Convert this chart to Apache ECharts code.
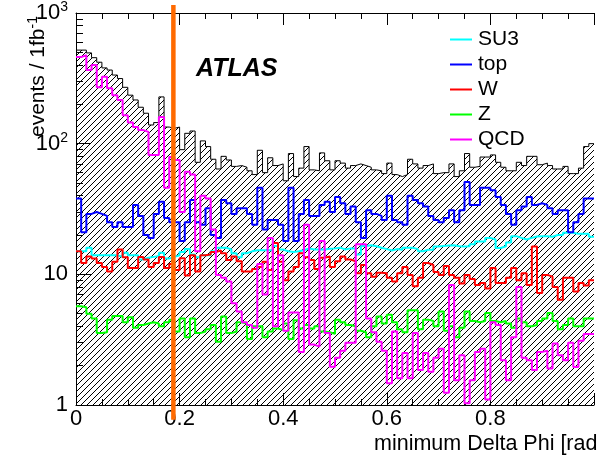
<!DOCTYPE html>
<html>
<head>
<meta charset="utf-8">
<script src="https://cdn.jsdelivr.net/npm/echarts@6/dist/echarts.min.js"></script>
<style>
  html, body { margin: 0; padding: 0; background: #fff; }
  #main { width: 597px; height: 458px; }
</style>
</head>
<body>
<div id="main"></div>
<script>
// 100 bins of 0.01 in minimum Delta Phi, events / 1fb-1
const binWidth = 0.01;

const total = [
  520, 520, 495, 455, 420, 380, 366, 335, 315, 270, 235, 216, 190, 171, 139, 145, 228, 134, 131, 134,
  90, 120, 125, 72, 105, 95, 76, 64, 80, 75, 67, 68, 66, 62, 58, 89, 60, 78, 68, 70,
  52, 84, 56, 65, 95, 63, 62, 85, 74, 63, 74, 71, 65, 68, 70, 68, 66, 63, 62, 59,
  71, 58, 56, 58, 76, 70, 65, 68, 70, 59, 60, 60, 70, 56, 62, 84, 66, 67, 79, 79,
  82, 72, 66, 62, 62, 72, 68, 80, 80, 69, 71, 68, 64, 64, 67, 59, 59, 65, 95, 100
];
const su3 = [
  15, 15, 16, 14, 14, 14, 14, 14, 13.6, 14.6, 14, 14, 13, 13.4, 13.6, 13.8, 14.6, 13.2, 13.6, 14, 14.8, 15.6, 14.2,
  13.5, 14, 14, 15, 16, 16, 15.5, 14.5, 13.5, 14.5, 15, 15.3, 15.3, 15.3, 15.3, 16.5, 15.5, 15, 14.8, 15, 15.3, 15.8, 15.5, 15.5,
  15.5, 15.7, 15.8, 16, 15.5, 15.8, 15.8, 14.2, 16.5, 16.7, 16.4, 16, 15.6, 15.2, 15.6, 15.4, 16, 16, 15.6, 15, 15.4, 15.4, 16.3, 16.5, 16.6,
  16.7, 16.4, 16.3, 16.4, 17, 17.8, 17.8, 19, 18.5, 15.9, 16.4, 17.5, 19.6, 19, 18.5, 19, 19.5, 19.6, 19.6, 19.4, 20, 20, 20.8, 20.8, 20.4, 20.4, 20.4, 19.4
];
const top_ = [
  38, 21, 29, 30, 29, 28, 25, 23, 25, 23, 23, 34, 28, 20, 19, 29, 36, 27, 25, 25, 18, 25, 37,
  25, 24, 32, 20, 19, 37, 35, 29, 32, 32, 29, 24, 46, 22, 26, 26, 24, 18, 46, 18, 29, 37, 28, 28,
  34, 36, 30, 39, 35, 29, 33, 25, 19, 31, 29, 28, 26, 40, 26, 25, 24, 40, 37, 35, 33, 28, 26, 25, 27,
  31, 25, 31, 51, 34, 34, 46, 46, 44, 39, 34, 29, 24, 31, 33, 39, 34, 35, 34, 32, 29, 31, 31, 21, 25, 29, 38, 38
];
const wjets = [
  15, 12.2, 13.7, 13.2, 12.2, 11.4, 10.5, 12.5, 15.5, 13.5, 11.2, 11.2, 13.6, 13, 11.4, 12.2, 13.6, 11.2, 12, 10.8, 13.3, 9.8, 14,
  10.5, 14, 14.2, 14.8, 15.2, 14.5, 12.9, 13.7, 12.6, 10.5, 10.5, 11, 11.4, 12.5, 10.8, 17.4, 12.5, 9, 10.5, 11.4, 14.5, 13.5, 12.9, 11,
  13.4, 13.7, 11.4, 12.6, 13.7, 13, 12.6, 10.2, 11.8, 10.2, 9.6, 10.3, 10.2, 9.4, 8.8, 10.2, 11.4, 9.9, 8.1, 9.4, 12.2, 11.8, 10.4, 9.9, 11.6,
  9.9, 9.4, 8.5, 9.9, 9.2, 8.3, 8.6, 7.8, 11.2, 8.6, 8.6, 9.4, 11.2, 9, 10.2, 8.3, 16.3, 7.2, 9.9, 9.6, 8, 6.4, 9.4, 9.4, 7.4, 8.6, 8.2, 9
];
const zjets = [
  5.7, 5.6, 5.0, 4.6, 3.55, 3.6, 4.5, 4.8, 4.8, 4.3, 4.7, 3.9, 4.1, 4.2, 4.3, 4.2, 4.0, 4.3, 4.5, 3.65, 4.6, 3.3, 4.6,
  3.55, 3.65, 3.8, 4.1, 3.05, 4.75, 3.55, 3.65, 4.3, 4.2, 3.2, 4.0, 4.0, 3.3, 3.65, 3.85, 3.75, 4.2, 3.2, 4.45, 3.85, 4.1, 3.85, 4.0,
  3.65, 3.6, 3.5, 4.5, 4.3, 4.1, 4.0, 3.7, 3.6, 3.3, 4.0, 4.75, 4.2, 4.9, 4.3, 3.8, 3.6, 5.3, 5.3, 3.8, 4.5, 4.4, 4.0, 5.2, 3.7,
  4.0, 3.3, 3.9, 5.2, 4.4, 4.3, 4.4, 5.05, 4.4, 4.3, 4.4, 4.2, 3.9, 4.6, 4.3, 4.0, 4.1, 4.4, 4.6, 5.05, 4.4, 3.8, 4.1, 4.6, 4.0, 4.0, 4.6, 4.6
];
const qcd = [
  460, 476, 366, 400, 270, 325, 265, 235, 216, 165, 145, 134, 127, 123, 82, 82, 160, 46, 79, 75, 30, 61, 58,
  15, 40, 38, 22, 9.9, 9.4, 8.8, 6, 5.2, 4.3, 4.1, 3.9, 12, 7, 19, 4.0, 14, 3.7, 5.1, 5.1, 2.55, 24, 2.9, 2.8,
  18, 3.55, 1.96, 2.3, 2.6, 3.0, 3.0, 17, 17, 4.6, 3.6, 3.05, 2.6, 1.47, 3.65, 1.6, 2.5, 1.6, 3.55, 1.85, 2.5, 1.8, 2.3, 2.7, 1.24,
  8.3, 1.55, 2.4, 1.03, 1.55, 2.55, 2.7, 1.1, 4.3, 4.1, 2.2, 1.55, 3.3, 8, 2.3, 2.2, 1.85, 2.55, 2.6, 1.9, 2.95, 2.4, 2.2, 3.0, 1.95, 3.1, 3.5, 3.5
];

const xTickLabels = [0, 0.2, 0.4, 0.6, 0.8];
const yTickLabels = [1, 10, 100, 1000];
const cutX = 0.188;          // orange cut line
const cutSpan = [0.77, 1150]; // runs a little past the frame

const FONT = '"Liberation Sans", Arial, Helvetica, sans-serif';

// histogram -> step points at bin edges
function histo(vals) {
  const pts = vals.map(function (v, i) { return [i * binWidth, v]; });
  pts.push([vals.length * binWidth, vals[vals.length - 1]]);
  return pts;
}

// diagonal hatch pattern
const hatch = document.createElement('canvas');
hatch.width = 6; hatch.height = 6;
(function () {
  const c = hatch.getContext('2d');
  c.strokeStyle = '#000';
  c.lineWidth = 1;
  c.beginPath();
  c.moveTo(-1, 7); c.lineTo(7, -1);
  c.moveTo(-1, 1); c.lineTo(1, -1);
  c.moveTo(5, 7); c.lineTo(7, 5);
  c.stroke();
})();

const myChart = echarts.init(document.getElementById('main'), null, { renderer: 'canvas' });

function lineSeries(name, vals, color) {
  return {
    name: name, type: 'line', data: histo(vals), step: 'end',
    symbol: 'none', color: color,
    lineStyle: { color: color, width: 2 },
    z: 3
  };
}

const xAxisCommon = {
  type: 'value', min: 0, max: 1, interval: 0.2,
  axisLine: { show: true, onZero: false, lineStyle: { color: '#000', width: 1 } },
  axisTick: { show: true, inside: true, length: 12, lineStyle: { color: '#000' } },
  minorTick: { show: true, splitNumber: 4, length: 6, lineStyle: { color: '#000' } },
  splitLine: { show: false },
  minorSplitLine: { show: false }
};

const option = {
  backgroundColor: '#fff',
  animation: false,
  grid: { left: 76, right: -4, top: 13, bottom: 53, containLabel: false },
  legend: {
    data: ['SU3', 'top', 'W', 'Z', 'QCD'],
    orient: 'vertical',
    left: 445, top: 24,
    icon: 'rect', itemWidth: 22, itemHeight: 2, itemGap: 4,
    textStyle: { fontFamily: FONT, fontSize: 21, color: '#000', lineHeight: 21, padding: [0, 0, 0, 1] }
  },
  xAxis: [
    Object.assign({}, xAxisCommon, {
      position: 'bottom',
      axisLabel: {
        show: true, margin: 3, fontFamily: FONT, fontSize: 22, color: '#000',
        formatter: function (v) {
          return xTickLabels.some(function (t) { return Math.abs(t - v) < 1e-9; }) ? String(Math.round(v * 10) / 10) : '';
        }
      }
    }),
    Object.assign({}, xAxisCommon, { position: 'top', axisLabel: { show: false } })
  ],
  yAxis: {
    type: 'log', logBase: 10, min: 1, max: 1000,
    axisLine: { show: true, lineStyle: { color: '#000', width: 1 } },
    axisTick: { show: true, inside: true, length: 15, lineStyle: { color: '#000' } },
    minorTick: { show: true, splitNumber: 9, length: 7, lineStyle: { color: '#000' } },
    splitLine: { show: false },
    minorSplitLine: { show: false },
    axisLabel: {
      margin: 8, fontFamily: FONT, fontSize: 22, color: '#000',
      formatter: function (v) {
        if (yTickLabels.indexOf(v) < 0) return '';
        if (v < 100) return String(v);
        return '{b|10}{s|' + Math.round(Math.log10(v)) + '}';
      },
      rich: {
        b: { fontFamily: FONT, fontSize: 22, color: '#000' },
        s: { fontFamily: FONT, fontSize: 14, color: '#000', padding: [0, 0, 12, 0] }
      }
    }
  },
  series: [
    {
      name: 'total', type: 'line', data: histo(total), step: 'end', symbol: 'none',
      color: '#000',
      lineStyle: { color: '#000', width: 1 },
      areaStyle: { origin: 'start', color: { image: hatch, repeat: 'repeat' }, opacity: 1 },
      z: 2
    },
    lineSeries('SU3', su3, '#00ffff'),
    lineSeries('top', top_, '#0000ff'),
    lineSeries('W', wjets, '#ff0000'),
    lineSeries('Z', zjets, '#00ff00'),
    lineSeries('QCD', qcd, '#ff00ff'),
    {
      name: 'cut', type: 'custom', clip: false, z: 10,
      data: [[cutX, cutSpan[0], cutSpan[1]]],
      encode: { x: 0, y: [1, 2] },
      renderItem: function (params, api) {
        const p0 = api.coord([api.value(0), api.value(1)]);
        const p1 = api.coord([api.value(0), api.value(2)]);
        return {
          type: 'line',
          shape: { x1: p0[0], y1: p0[1], x2: p1[0], y2: p1[1] },
          style: { stroke: '#ff6a00', lineWidth: 4.5 }
        };
      }
    }
  ],
  graphic: [
    {
      type: 'text', left: 196, top: 57,
      style: { text: 'ATLAS', fontFamily: FONT, fontSize: 25, fontWeight: 'bold', fontStyle: 'italic', fill: '#000' }
    },
    {
      type: 'text', x: 38, y: 16, rotation: Math.PI / 2,
      style: {
        text: '{a|events / 1fb}{s|-1}', align: 'right', verticalAlign: 'middle',
        rich: {
          a: { fontFamily: FONT, fontSize: 21, fill: '#000' },
          s: { fontFamily: FONT, fontSize: 14, fill: '#000', padding: [0, 0, 10, 0] }
        }
      }
    },
    {
      type: 'text', left: 374, top: 433,
      style: { text: 'minimum Delta Phi [rad]', fontFamily: FONT, fontSize: 21.5, fill: '#000' }
    }
  ]
};

myChart.setOption(option);
</script>
</body>
</html>
